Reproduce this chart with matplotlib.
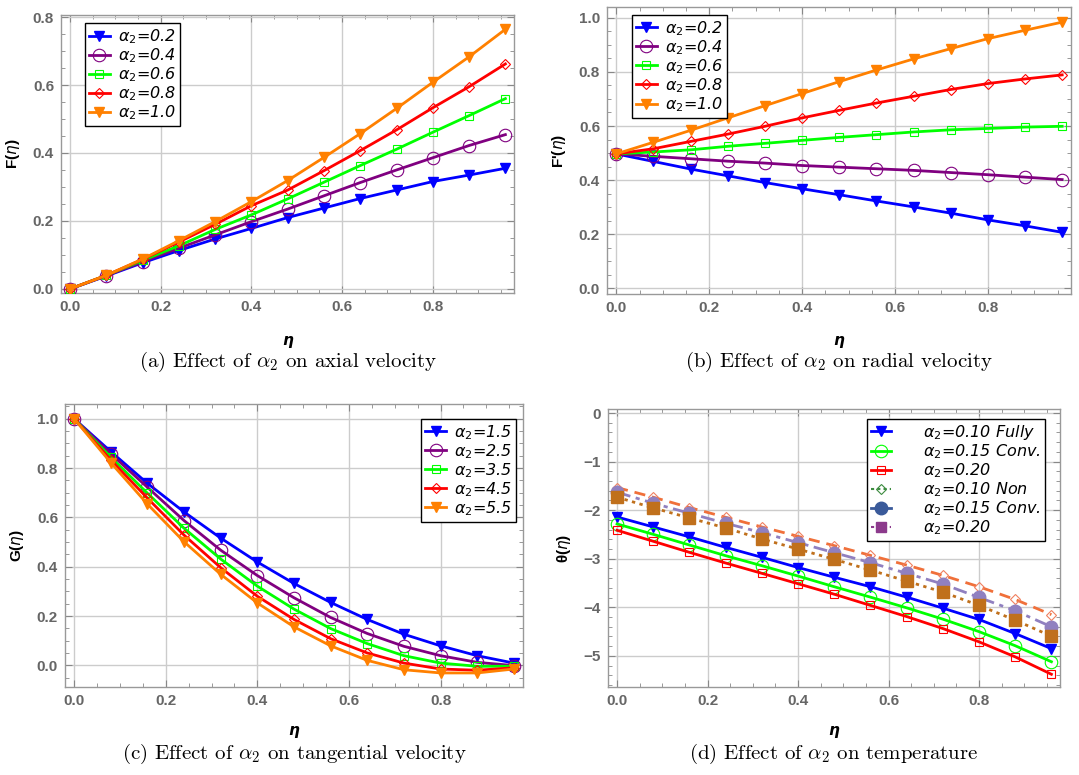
import numpy as np
import matplotlib
matplotlib.use("Agg")
from matplotlib import pyplot as plt
from matplotlib.lines import Line2D
from matplotlib.ticker import MultipleLocator

eta = [0.0, 0.08, 0.16, 0.24, 0.32, 0.40, 0.48, 0.56, 0.64, 0.72, 0.80, 0.88, 0.96]

# (a) axial velocity F
a_labels = ['0.2', '0.4', '0.6', '0.8', '1.0']
F_02 = [0, 0.038, 0.077, 0.113, 0.147, 0.178, 0.210, 0.238, 0.266, 0.291, 0.316, 0.335, 0.355]
F_04 = [0, 0.039, 0.080, 0.120, 0.159, 0.198, 0.235, 0.274, 0.313, 0.350, 0.386, 0.422, 0.454]
F_06 = [0, 0.040, 0.084, 0.127, 0.175, 0.218, 0.265, 0.314, 0.363, 0.411, 0.461, 0.510, 0.560]
F_08 = [0, 0.040, 0.087, 0.138, 0.190, 0.245, 0.291, 0.348, 0.407, 0.468, 0.533, 0.595, 0.662]
F_10 = [0, 0.040, 0.088, 0.142, 0.198, 0.257, 0.319, 0.387, 0.457, 0.531, 0.608, 0.683, 0.764]

# (b) radial velocity F'
Fp_02 = [0.497, 0.469, 0.441, 0.416, 0.391, 0.368, 0.346, 0.323, 0.301, 0.278, 0.253, 0.231, 0.207]
Fp_04 = [0.497, 0.488, 0.479, 0.470, 0.463, 0.454, 0.448, 0.442, 0.436, 0.428, 0.420, 0.411, 0.402]
Fp_06 = [0.497, 0.504, 0.512, 0.525, 0.536, 0.547, 0.558, 0.568, 0.578, 0.586, 0.591, 0.596, 0.599]
Fp_08 = [0.497, 0.516, 0.543, 0.570, 0.599, 0.630, 0.658, 0.685, 0.710, 0.735, 0.757, 0.774, 0.789]
Fp_10 = [0.497, 0.540, 0.584, 0.630, 0.675, 0.720, 0.764, 0.807, 0.848, 0.886, 0.923, 0.954, 0.984]

# (c) tangential velocity G
c_labels = ['1.5', '2.5', '3.5', '4.5', '5.5']
G_15 = [1.0, 0.867, 0.738, 0.622, 0.516, 0.419, 0.332, 0.255, 0.186, 0.126, 0.079, 0.039, 0.009]
G_25 = [1.0, 0.858, 0.722, 0.587, 0.467, 0.364, 0.274, 0.194, 0.129, 0.077, 0.039, 0.012, -0.001]
G_35 = [1.0, 0.844, 0.698, 0.556, 0.431, 0.321, 0.228, 0.149, 0.088, 0.039, 0.009, -0.004, -0.004]
G_45 = [1.0, 0.833, 0.678, 0.528, 0.396, 0.280, 0.186, 0.108, 0.050, 0.009, -0.015, -0.020, -0.010]
G_55 = [1.0, 0.822, 0.654, 0.501, 0.369, 0.253, 0.156, 0.079, 0.020, -0.018, -0.031, -0.031, -0.015]

# (d) temperature theta
d_labels = ['0.10 Fully', '0.15 Conv.', '0.20', '0.10 Non', '0.15 Conv.', '0.20']
th_full_10 = [-2.14, -2.345, -2.55, -2.765, -2.97, -3.18, -3.38, -3.576, -3.79, -4.016, -4.25, -4.54, -4.85]
th_full_15 = [-2.283, -2.497, -2.717, -2.937, -3.143, -3.356, -3.576, -3.79, -4.01, -4.243, -4.50, -4.79, -5.12]
th_full_20 = [-2.414, -2.64, -2.868, -3.088, -3.30, -3.514, -3.73, -3.96, -4.19, -4.436, -4.71, -5.02, -5.378]
th_non_10 = [-1.534, -1.733, -1.946, -2.146, -2.345, -2.538, -2.73, -2.93, -3.13, -3.342, -3.576, -3.838, -4.15]
th_non_15 = [-1.63, -1.857, -2.063, -2.27, -2.462, -2.668, -2.875, -3.08, -3.30, -3.52, -3.796, -4.07, -4.40]
th_non_20 = [-1.733, -1.953, -2.16, -2.366, -2.593, -2.80, -3.012, -3.232, -3.46, -3.686, -3.96, -4.264, -4.594]

colors = ['#0000ff', '#800080', '#00ff00', '#ff0000', '#ff8000']
styles = [dict(marker='v', ms=7, mfc='#0000ff'),
          dict(marker='o', ms=9, mfc='none', mew=0.8),
          dict(marker='s', ms=6, mfc='none', mew=0.8),
          dict(marker='D', ms=5.5, mfc='none', mew=0.8),
          dict(marker='v', ms=7, mfc='#ff8000')]

tick_font = ['Liberation Sans', 'DejaVu Sans']
cap_font = ['cmr10', 'DejaVu Serif']
W, H = 1079, 775


def style_axes(ax, xlim, ylim, ymaj, ymin, ylabel, caption, eta_px, cap_px):
    ax.set_xlim(*xlim)
    ax.set_ylim(*ylim)
    ax.xaxis.set_major_locator(MultipleLocator(0.2))
    ax.xaxis.set_minor_locator(MultipleLocator(0.05))
    ax.yaxis.set_major_locator(MultipleLocator(ymaj))
    ax.yaxis.set_minor_locator(MultipleLocator(ymin))
    ax.grid(True, which='major', color='#cccccc', lw=1.0, zorder=0)
    ax.set_axisbelow(True)
    ax.tick_params(which='both', direction='in', top=True, right=True, color='#888888')
    ax.tick_params(which='major', length=5, labelsize=11, labelcolor='#666666', pad=5)
    ax.tick_params(which='minor', length=3)
    for lab in ax.get_xticklabels() + ax.get_yticklabels():
        lab.set_family(tick_font)
        lab.set_fontweight('bold')
    for sp in ax.spines.values():
        sp.set_color('#999999')
        sp.set_linewidth(1.0)
    ax.set_ylabel(ylabel, fontsize=11, fontweight='bold', labelpad=8, family=tick_font,
                  math_fontfamily='dejavusans')
    pos = ax.get_position()
    cx = pos.x0 + pos.width / 2
    fig.text(cx, 1 - eta_px / H, 'η', ha='center', va='center', fontsize=11,
             fontweight='bold', fontstyle='italic')
    fig.text(cx, 1 - cap_px / H, caption, ha='center', va='center', fontsize=15,
             family=cap_font, math_fontfamily='cm')


def legend(ax, handles, labels, loc, anchor, textpad=0.5):
    lg = ax.legend(handles, labels, loc=loc, bbox_to_anchor=anchor, fancybox=False,
                   framealpha=1, edgecolor='black', borderpad=0.25, labelspacing=0.02,
                   borderaxespad=0, handlelength=1.3, handletextpad=textpad,
                   prop=dict(size=11.5, style='italic', math_fontfamily='dejavusans'))
    lg.get_frame().set_linewidth(1.0)
    return lg


fig = plt.figure(figsize=(W / 100, H / 100), dpi=100)
axa = fig.add_axes([61 / W, 1 - 293 / H, 453 / W, 278 / H])
axb = fig.add_axes([607 / W, 1 - 294 / H, 464 / W, 287 / H])
axc = fig.add_axes([65 / W, 1 - 687 / H, 458 / W, 283 / H])
axd = fig.add_axes([608 / W, 1 - 687 / H, 452 / W, 278 / H])

# (a)
hs = []
for ys, c, st in zip([F_02, F_04, F_06, F_08, F_10], colors, styles):
    h, = axa.plot(eta, ys, color=c, lw=2, mec=c, zorder=3, **st)
    hs.append(h)
legend(axa, hs, [r'$\alpha_2$=' + l for l in a_labels], 'upper left', (0.053, 0.97))
style_axes(axa, (-0.02, 0.979), (-0.012, 0.806), 0.2, 0.05, r'F($\eta$)',
           r'(a) Effect of $\alpha_2$ on axial velocity', 341, 362)

# (b)
hs = []
for ys, c, st in zip([Fp_02, Fp_04, Fp_06, Fp_08, Fp_10], colors, styles):
    h, = axb.plot(eta, ys, color=c, lw=2, mec=c, zorder=3, **st)
    hs.append(h)
legend(axb, hs, [r'$\alpha_2$=' + l for l in a_labels], 'upper left', (0.054, 0.972))
style_axes(axb, (-0.02, 0.979), (-0.021, 1.04), 0.2, 0.05, r"F'($\eta$)",
           r'(b) Effect of $\alpha_2$ on radial velocity', 341, 362)

# (c)
hs = []
for ys, c, st in zip([G_15, G_25, G_35, G_45, G_55], colors, styles):
    h, = axc.plot(eta, ys, color=c, lw=2, mec=c, zorder=3, **st)
    hs.append(h)
legend(axc, hs, [r'$\alpha_2$=' + l for l in c_labels], 'upper right', (0.985, 0.947))
style_axes(axc, (-0.02, 0.98), (-0.088, 1.06), 0.2, 0.05, r'G($\eta$)',
           r'(c) Effect of $\alpha_2$ on tangential velocity', 730, 754)

# (d)
axd.plot(eta, th_full_10, color='#0000ff', lw=2, marker='v', ms=7, mfc='#0000ff', mec='#0000ff', zorder=4)
axd.plot(eta, th_full_15, color='#00ff00', lw=2, marker='o', ms=9, mfc='none', mec='#00ff00', mew=0.8, zorder=4)
axd.plot(eta, th_full_20, color='#ff0000', lw=2, marker='s', ms=6, mfc='none', mec='#ff0000', mew=0.8, zorder=4)
axd.plot(eta, th_non_10, color='#f0703a', lw=2, ls=(0, (4, 2.5)), marker='D', ms=5.5, mfc='none',
         mec='#f08060', mew=0.8, zorder=3)
axd.plot(eta, th_non_15, color='#9080c0', lw=2, ls=(0, (5, 2, 1.5, 2)), marker='o', ms=9,
         mfc='#9080c0', mec='#9080c0', zorder=3)
axd.plot(eta, th_non_20, color='#c0701c', lw=2, ls=(0, (1.2, 1.6)), marker='s', ms=8,
         mfc='#c0701c', mec='#c0701c', zorder=3)
dh = [Line2D([], [], color='#0000ff', lw=2, marker='v', ms=7, mfc='#0000ff'),
      Line2D([], [], color='#00ff00', lw=2, marker='o', ms=9, mfc='none', mew=0.8),
      Line2D([], [], color='#ff0000', lw=2, marker='s', ms=6, mfc='none', mew=0.8),
      Line2D([], [], color='#3d8c40', lw=1.5, ls=(0, (1.5, 1.5)), marker='D', ms=5.5, mfc='none', mew=0.8),
      Line2D([], [], color='#3a5a9a', lw=2, marker='o', ms=9, mfc='#3a5a9a'),
      Line2D([], [], color='#8c3a8c', lw=1.5, ls=(0, (1.5, 1.5)), marker='s', ms=7, mfc='#8c3a8c')]
legend(axd, dh, [r'$\alpha_2$=' + l for l in d_labels], 'upper right', (0.967, 0.964), textpad=2.0)
style_axes(axd, (-0.02, 0.979), (-5.64, 0.083), 1, 0.2, r'θ($\eta$)',
           r'(d) Effect of $\alpha_2$ on temperature', 730, 754)

fig.savefig('out.png', dpi=100)
